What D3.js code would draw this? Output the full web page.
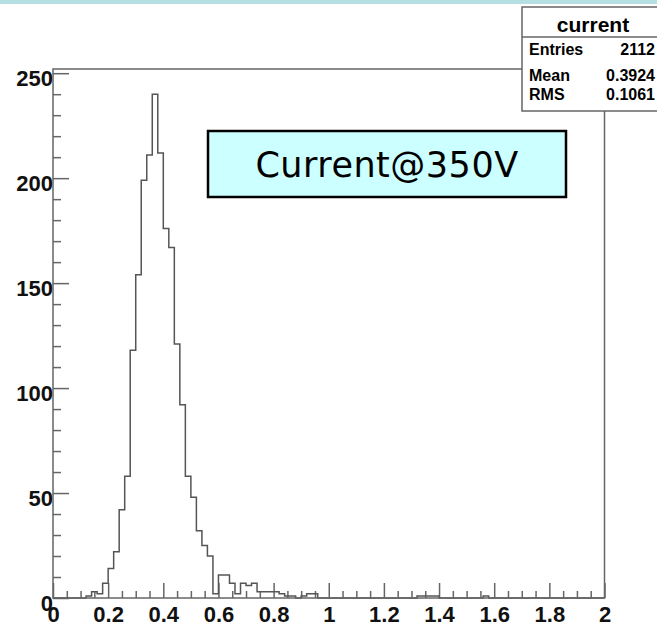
<!DOCTYPE html>
<html>
<head>
<meta charset="utf-8">
<script src="https://cdn.jsdelivr.net/npm/d3@7"></script>
<style>
  body { margin: 0; background: #fff; }
  svg { display: block; }
</style>
</head>
<body>
<svg id="chart" width="657" height="626"></svg>
<script>
// histogram "current": 100 bins from 0 to 2
var xMin = 0, xMax = 2, nBins = 100;
var binCounts = [
  0, 0, 0, 0, 0, 0, 1, 3, 2, 7,
  14, 22, 42, 58, 118, 154, 199, 211, 240, 212,
  176, 167, 121, 92, 58, 48, 32, 25, 20, 2,
  11, 11, 7, 2, 7, 6, 7, 3, 3, 3,
  3, 2, 1, 1, 0, 1, 2, 2, 0, 0,
  0, 0, 0, 0, 0, 0, 0, 0, 0, 0,
  0, 0, 0, 0, 0, 0, 1, 1, 1, 1,
  0, 0, 0, 0, 0, 0, 0, 0, 1, 0,
  0, 0, 0, 0, 0, 0, 0, 0, 0, 0,
  0, 0, 0, 0, 0, 0, 0, 0, 0, 0
];
var yMax = 252;

var xMajor = [0, 0.2, 0.4, 0.6, 0.8, 1, 1.2, 1.4, 1.6, 1.8, 2];
var yMajor = [0, 50, 100, 150, 200, 250];

var statsTitle = "current";
var statsRows = [["Entries", "2112"], ["Mean", "0.3924"], ["RMS", "0.1061"]];
var boxLabel = "Current@350V";

// layout
var margin_l = 53, margin_r = 53, margin_t = 69, margin_b = 28;
var W = 657, H = 626;
var frameColor = "#666";
var labelFont = "'Liberation Sans', Arial, sans-serif";

var svg = d3.select("#chart");

// thin band at the very top
svg.append("rect")
  .attr("x", 0).attr("y", 0)
  .attr("width", W).attr("height", 4)
  .attr("fill", "#b5dfe2");

var xScale = d3.scaleLinear()
  .domain([xMin, xMax])
  .range([margin_l, W - margin_r + 0.5]);

var yScale = d3.scaleLinear()
  .domain([0, yMax])
  .range([H - margin_b, margin_t]);

// minor ticks (no labels)
var xMinor = d3.range(0, 40).map(function(i){ return i * 0.05; }).filter(function(v){ return Math.abs(v * 5 - Math.round(v * 5)) > 1e-6; });
var yMinor = d3.range(0, 26).map(function(i){ return i * 10; }).filter(function(v){ return v % 50 !== 0; });

var gx = svg.append("g")
  .attr("transform", "translate(0," + yScale(0) + ")");
gx.call(d3.axisBottom(xScale).tickValues(xMinor).tickSize(-7).tickFormat(""));
gx.append("g").call(d3.axisBottom(xScale).tickValues(xMajor).tickSize(-15).tickPadding(8)
  .tickFormat(function(d){ return d3.format("~g")(d); }));

var gy = svg.append("g")
  .attr("transform", "translate(" + xScale(xMin) + ",0)");
gy.call(d3.axisLeft(yScale).tickValues(yMinor).tickSize(-8).tickFormat(""));
gy.append("g").call(d3.axisLeft(yScale).tickValues(yMajor).tickSize(-16).tickPadding(0));

svg.selectAll(".domain").remove();
svg.selectAll(".tick line").attr("stroke", frameColor).attr("stroke-width", 1.5);
svg.selectAll(".tick text")
  .attr("fill", "#111")
  .style("font-family", labelFont)
  .style("font-weight", "bold")
  .style("font-size", "22px");
gy.selectAll(".tick text").attr("dy", "0.55em");

// histogram outline
var pts = [[xMin, 0]];
binCounts.forEach(function(c, i){
  var lo = xMin + i * (xMax - xMin) / nBins;
  pts.push([lo, c]);
});
pts.push([xMax, 0]);

var line = d3.line()
  .x(function(d){ return xScale(d[0]); })
  .y(function(d){ return yScale(d[1]); })
  .curve(d3.curveStepAfter);

svg.append("path")
  .datum(pts)
  .attr("d", line)
  .attr("fill", "none")
  .attr("stroke", "#555")
  .attr("stroke-width", 1.5);

// frame
svg.append("rect")
  .attr("x", xScale(xMin)).attr("y", yScale(yMax))
  .attr("width", xScale(xMax) - xScale(xMin))
  .attr("height", yScale(0) - yScale(yMax))
  .attr("fill", "none")
  .attr("stroke", frameColor)
  .attr("stroke-width", 1.5);

// stats box
var sb = svg.append("g").attr("transform", "translate(522,7)");
sb.append("rect")
  .attr("width", 150).attr("height", 104)
  .attr("fill", "#fff")
  .attr("stroke", frameColor)
  .attr("stroke-width", 1.5);
sb.append("line")
  .attr("x1", 0).attr("x2", 150)
  .attr("y1", 30).attr("y2", 30)
  .attr("stroke", frameColor).attr("stroke-width", 1.5);
sb.append("text")
  .attr("x", 71).attr("y", 25)
  .attr("text-anchor", "middle")
  .style("font-family", labelFont)
  .style("font-weight", "bold")
  .style("font-size", "21px")
  .text(statsTitle);
var rowY = [48, 74, 93];
statsRows.forEach(function(r, i){
  sb.append("text")
    .attr("x", 7).attr("y", rowY[i])
    .style("font-family", labelFont)
    .style("font-weight", "bold")
    .style("font-size", "16px")
    .text(r[0]);
  sb.append("text")
    .attr("x", 133).attr("y", rowY[i])
    .attr("text-anchor", "end")
    .style("font-family", labelFont)
    .style("font-weight", "bold")
    .style("font-size", "16px")
    .text(r[1]);
});

// label box
svg.append("rect")
  .attr("x", 208).attr("y", 131)
  .attr("width", 358).attr("height", 66)
  .attr("fill", "#ccffff")
  .attr("stroke", "#000")
  .attr("stroke-width", 2.5);
svg.append("text")
  .attr("x", 387).attr("y", 177)
  .attr("text-anchor", "middle")
  .style("font-family", "'DejaVu Sans', Verdana, sans-serif")
  .style("font-size", "35px")
  .style("letter-spacing", "0.5px")
  .text(boxLabel);
</script>
</body>
</html>
